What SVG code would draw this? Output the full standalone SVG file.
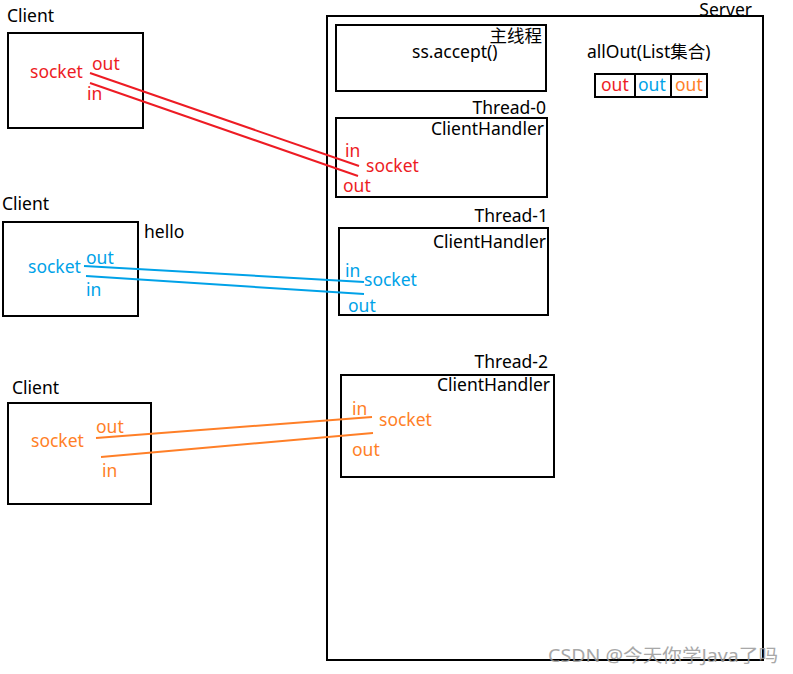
<svg xmlns="http://www.w3.org/2000/svg" width="793" height="674" viewBox="0 0 793 674">
<style>
text{font-family:"Noto Sans","Noto Sans CJK SC",sans-serif;font-size:17.5px;fill:#000}
.box{fill:none;stroke:#000;stroke-width:2}
.r{fill:#ED1C24}.b{fill:#00A2E8}.o{fill:#FF7F27}
.end{text-anchor:end}
.lr{stroke:#ED1C24;stroke-width:2;fill:none}
.lb{stroke:#00A2E8;stroke-width:2;fill:none}
.lo{stroke:#FF7F27;stroke-width:2;fill:none}
.wm{fill:#999;font-size:18px;opacity:0.85}
</style>
<rect width="793" height="674" fill="#fff"/>
<g id="server">
<rect class="box" x="327" y="16" width="436" height="644"/>
<text class="end" x="752" y="16">Server</text>
</g>
<g id="main-thread">
<rect class="box" x="336" y="25" width="210" height="66"/>
<text class="end" x="542" y="42">主线程</text>
<text x="412" y="58">ss.accept()</text>
</g>
<g id="allout">
<text x="587" y="58">allOut(List集合)</text>
<rect class="box" x="595" y="74" width="112" height="23"/>
<line x1="635" y1="74" x2="635" y2="97" stroke="#000" stroke-width="2"/>
<line x1="671" y1="74" x2="671" y2="97" stroke="#000" stroke-width="2"/>
<text class="r" x="601" y="91">out</text>
<text class="b" x="638" y="91">out</text>
<text class="o" x="675" y="91">out</text>
</g>
<g id="client1">
<text x="7" y="22">Client</text>
<rect class="box" x="8" y="33" width="135" height="95"/>
<text class="r" x="30" y="78">socket</text>
<text class="r" x="92" y="70">out</text>
<text class="r" x="87" y="100">in</text>
</g>
<g id="thread0">
<text class="end" x="546" y="114">Thread-0</text>
<rect class="box" x="336" y="118" width="211" height="79"/>
<text class="end" x="544" y="135">ClientHandler</text>
<text class="r" x="345" y="157">in</text>
<text class="r" x="366" y="172">socket</text>
<text class="r" x="343" y="192">out</text>
</g>
<g id="client2">
<text x="2" y="210">Client</text>
<rect class="box" x="3" y="222" width="135" height="94"/>
<text x="144" y="238">hello</text>
<text class="b" x="28" y="273">socket</text>
<text class="b" x="86" y="264">out</text>
<text class="b" x="86" y="296">in</text>
</g>
<g id="thread1">
<text class="end" x="548" y="222">Thread-1</text>
<rect class="box" x="339" y="228" width="209" height="87"/>
<text class="end" x="546" y="248">ClientHandler</text>
<text class="b" x="345" y="277">in</text>
<text class="b" x="364" y="286">socket</text>
<text class="b" x="348" y="312">out</text>
</g>
<g id="client3">
<text x="12" y="394">Client</text>
<rect class="box" x="8" y="403" width="143" height="101"/>
<text class="o" x="31" y="447">socket</text>
<text class="o" x="96" y="433">out</text>
<text class="o" x="102" y="477">in</text>
</g>
<g id="thread2">
<text class="end" x="548" y="368">Thread-2</text>
<rect class="box" x="341" y="375" width="213" height="102"/>
<text class="end" x="550" y="391">ClientHandler</text>
<text class="o" x="352" y="415">in</text>
<text class="o" x="379" y="426">socket</text>
<text class="o" x="352" y="456">out</text>
</g>
<g id="connectors">
<line class="lr" x1="90" y1="73" x2="359" y2="166"/>
<line class="lr" x1="90" y1="83" x2="358" y2="176"/>
<line class="lb" x1="84" y1="266" x2="364" y2="282"/>
<line class="lb" x1="86" y1="276" x2="364" y2="294"/>
<line class="lo" x1="96" y1="438" x2="372" y2="417"/>
<line class="lo" x1="101" y1="457" x2="373" y2="433"/>
</g>
<text class="wm" x="548" y="662" textLength="230" lengthAdjust="spacingAndGlyphs">CSDN @今天你学Java了吗</text>
</svg>
